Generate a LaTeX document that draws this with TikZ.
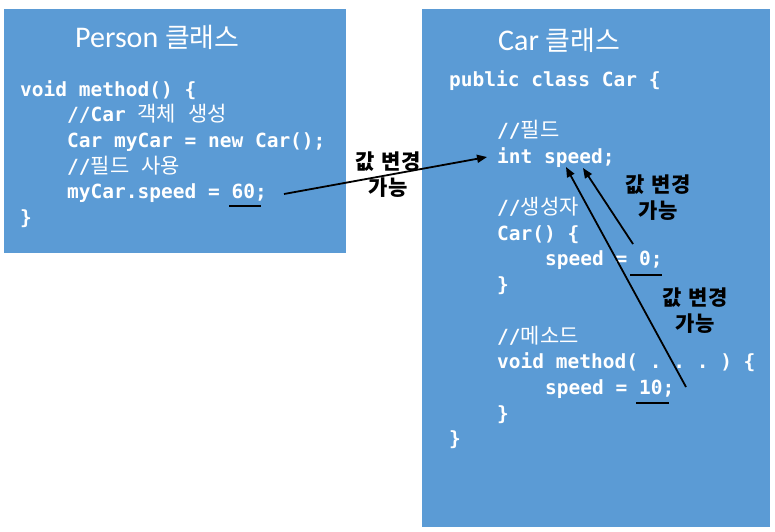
\documentclass[tikz,border=0pt]{standalone}
\usepackage{fontspec}
\setmainfont{Carlito}
\setmonofont{DejaVu Sans Mono}
\newfontfamily\kr{Noto Sans CJK KR}
\usetikzlibrary{arrows.meta}
\definecolor{boxblue}{RGB}{91,155,213}
\newcommand{\hg}[1]{{\kr\mdseries\fontsize{21}{24}\selectfont#1}}
\newcommand{\hgt}[1]{{\kr\fontsize{27}{30}\selectfont#1}}

\begin{document}
\begin{tikzpicture}[x=1pt,y=-1pt,
  code/.style={anchor=base west,inner sep=0pt,text=white,
    font=\fontsize{19.5}{22}\ttfamily\bfseries},
  title/.style={anchor=base west,inner sep=0pt,text=white,
    font=\fontsize{30}{32}\selectfont},
  note/.style={align=center,inner sep=0pt,
    font=\fontsize{21}{26}\kr\bfseries},
  ptr/.style={line width=1.8pt,-{Triangle[length=10pt,width=8pt]}},
  mark60/.style={line width=2.3pt}]

\useasboundingbox (0,0) rectangle (775,531);
\fill[white] (0,0) rectangle (775,531);

% the two classes
\fill[boxblue] (4,9) rectangle (346,253);
\fill[boxblue] (422,9) rectangle (770,527);

\node[title] (ptitle) at (75,47) {Person \hgt{클래스}};
\node[title] (ctitle) at (498,50) {Car \hgt{클래스}};

% Person side
\node[code] (p0) at (20,96) {void method() \{};
\node[code] (p1) at (67,121.7) {//Car \hg{객체} \hg{생성}};
\node[code] (p2) at (67,147.4) {Car myCar = new Car();};
\node[code] (p3) at (67,173.1) {//\hg{필드} \hg{사용}};
\node[code] (p4) at (67,198.8) {myCar.speed = 60;};
\node[code] (p5) at (20,224.5) {\}};

% Car side
\node[code] (c0) at (449,86) {public class Car \{};
\node[code] (c1) at (497,137.4) {//\hg{필드}};
\node[code] (c2) at (497,163.1) {int speed;};
\node[code] (c3) at (497,214.5) {//\hg{생성자}};
\node[code] (c4) at (497,240.2) {Car() \{};
\node[code] (c5) at (545,265.9) {speed = 0;};
\node[code] (c6) at (497,291.6) {\}};
\node[code] (c7) at (497,343) {//\hg{메소드}};
\node[code] (c8) at (497,368.7) {void method( . . . ) \{};
\node[code] (c9) at (545,394.4) {speed = 10;};
\node[code] (c10) at (497,420.1) {\}};
\node[code] (c11) at (449,445.8) {\}};

% underlined values
\draw[mark60] (229,206) -- (261,206);
\draw[mark60] (630,275) -- (662,275);
\draw[mark60] (636,403) -- (669,403);

% arrows
\coordinate (from60) at (284,194);
\coordinate (toint) at (487,157);
\coordinate (from0) at (633,244);
\coordinate (to0) at (583,168);
\coordinate (from10) at (686,387);
\coordinate (to10) at (566,167);

\draw[ptr] (from60) -- (toint);
\draw[ptr] (from0) -- (to0);
\draw[ptr] (from10) -- (to10);

\node[note] (n1) at (388,175) {값\hspace{7pt}변경\\가능};
\node[note] (n2) at (658,198) {값\hspace{7pt}변경\\가능};
\node[note] (n3) at (695,311) {값\hspace{7pt}변경\\가능};

\end{tikzpicture}
\end{document}
